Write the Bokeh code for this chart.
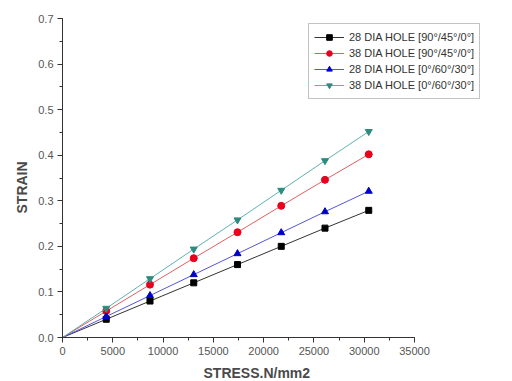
from bokeh.plotting import figure
from bokeh.models import Range1d, Legend, LegendItem, FixedTicker, CustomJSTickFormatter, Title
from bokeh.embed import file_html
from bokeh.resources import INLINE

stress = [0, 4350, 8700, 13050, 17400, 21750, 26100, 30450]
s28_90 = [0.0, 0.040, 0.080, 0.120, 0.160, 0.200, 0.240, 0.279]
s38_90 = [0.0, 0.058, 0.116, 0.174, 0.231, 0.289, 0.346, 0.402]
s28_0 = [0.0, 0.046, 0.092, 0.138, 0.184, 0.230, 0.276, 0.321]
s38_0 = [0.0, 0.064, 0.129, 0.194, 0.258, 0.323, 0.388, 0.452]

labels = ["28 DIA HOLE [90°/45°/0°]", "38 DIA HOLE [90°/45°/0°]",
          "28 DIA HOLE [0°/60°/30°]", "38 DIA HOLE [0°/60°/30°]"]
series = [s28_90, s38_90, s28_0, s38_0]
line_colors = ["#333333", "#e06060", "#5555d8", "#5fb0b0"]
marker_colors = ["black", "#e8001c", "#0000cc", "#2e8b7f"]
markers = ["square", "circle", "triangle", "inverted_triangle"]
sizes = [6, 7, 7, 7]

FONT = "Liberation Sans"
X_MAX = 35000
FW = 423
x_end = X_MAX * FW / 352.0

p = figure(output_backend="svg", toolbar_location=None,
           frame_width=FW, frame_height=319,
           x_range=Range1d(0, x_end), y_range=Range1d(0, 0.7),
           min_border_left=62, min_border_top=18, min_border_right=10,
           min_border_bottom=4)
p.outline_line_color = None
p.grid.visible = False
p.background_fill_color = "white"

items = []
for lab, ys, lc, mc, mk, sz in zip(labels, series, line_colors, marker_colors, markers, sizes):
    r1 = p.line(stress, ys, line_color=lc, line_width=1)
    r2 = p.scatter(stress[1:], ys[1:], marker=mk, size=sz, fill_color=mc, line_color=mc)
    items.append(LegendItem(label=lab, renderers=[r1, r2]))

legend = Legend(items=items, location=(246, 238), label_text_font=FONT,
                label_text_font_size="11px", label_text_color="#333333",
                glyph_width=30, glyph_height=14, label_height=16,
                spacing=0, padding=5, margin=0,
                border_line_color="#888888", border_line_width=1,
                background_fill_alpha=1.0)
p.add_layout(legend, "center")

p.xaxis.ticker = FixedTicker(ticks=list(range(0, X_MAX + 1, 5000)),
                             minor_ticks=list(range(0, X_MAX + 1, 2500)))
p.xaxis.bounds = (0, X_MAX)
p.yaxis.ticker = FixedTicker(ticks=[i / 10 for i in range(8)],
                             minor_ticks=[i / 20 for i in range(15)])
p.yaxis.formatter = CustomJSTickFormatter(code="return tick.toFixed(1);")

for ax in (p.xaxis, p.yaxis):
    ax.axis_line_color = "#333333"
    ax.major_tick_line_color = "#333333"
    ax.minor_tick_line_color = "#333333"
    ax.major_tick_out = 5
    ax.major_tick_in = 0
    ax.minor_tick_out = 3
    ax.minor_tick_in = 0
    ax.major_label_text_font = FONT
    ax.major_label_text_font_size = "11px"
    ax.major_label_text_color = "#555555"
    ax.major_label_standoff = 4

xt = Title(text="STRESS.N/mm2", align="left", offset=141,
           text_font=FONT, text_font_size="14px", text_font_style="bold",
           text_color="#4a4a4a", standoff=10)
p.add_layout(xt, "below")
yt = Title(text="STRAIN", align="left", offset=124,
           text_font=FONT, text_font_size="14px", text_font_style="bold",
           text_color="#4a4a4a", standoff=11)
p.add_layout(yt, "left")

open("out.html", "w").write(file_html(p, INLINE))
